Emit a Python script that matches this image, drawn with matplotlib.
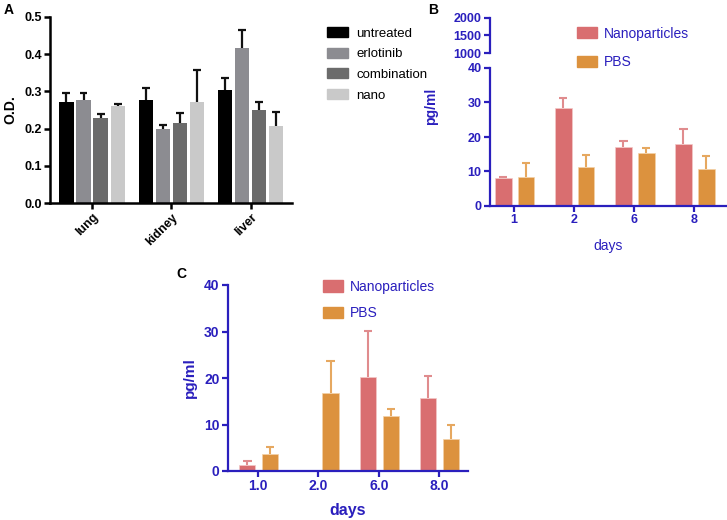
import matplotlib.pyplot as plt
import numpy as np
from matplotlib.patches import Patch

plt.rcParams['font.family'] = ['Liberation Sans Narrow', 'Liberation Sans', 'DejaVu Sans']

# ---- panel A data (O.D.) ----
tissues = ['lung', 'kidney', 'liver']
treatments = ['untreated', 'erlotinib', 'combination', 'nano']
od_untreated = [0.272, 0.278, 0.305]
od_erlotinib = [0.278, 0.200, 0.417]
od_combination = [0.228, 0.215, 0.249]
od_nano = [0.260, 0.272, 0.207]
err_untreated = [0.023, 0.032, 0.032]
err_erlotinib = [0.017, 0.010, 0.047]
err_combination = [0.010, 0.028, 0.022]
err_nano = [0.005, 0.086, 0.037]

# ---- panel B data (pg/ml) ----
days_b = ['1', '2', '6', '8']
b_nano = [8.0, 28.3, 17.2, 17.9]
b_nano_err = [0.3, 2.9, 1.5, 4.3]
b_pbs = [8.3, 11.2, 15.3, 10.8]
b_pbs_err = [4.3, 3.5, 1.5, 3.7]

# ---- panel C data (pg/ml) ----
days_c = ['1.0', '2.0', '6.0', '8.0']
c_nano = [1.3, 0.0, 20.3, 15.8]
c_nano_err = [0.8, 0.0, 9.8, 4.7]
c_pbs = [3.6, 16.8, 11.8, 6.9]
c_pbs_err = [1.6, 6.9, 1.5, 3.1]

gray_cols = ['#000000', '#8c8c91', '#6b6b6b', '#c9c9c9']
nano_col = '#d96e70'
pbs_col = '#dc923e'
nano_err_col = '#e08c8e'
pbs_err_col = '#e6a860'
blue = '#2a1fbd'

W, H = 727, 520
fig = plt.figure(figsize=(7.27, 5.2), dpi=100)


def box(l, t, r, b):
    # pixel box -> figure fraction
    return [l / W, 1 - b / H, (r - l) / W, (b - t) / H]


def draw_err(ax, x, mean, err, color, capw, lw):
    x = np.asarray(x); mean = np.asarray(mean); err = np.asarray(err)
    keep = err > 0
    top = mean + err
    ax.vlines(x[keep], mean[keep], top[keep], color=color, lw=lw, zorder=1)
    ax.hlines(top[keep], x[keep] - capw, x[keep] + capw, color=color, lw=lw, zorder=1)


# ================= panel A =================
axA = fig.add_axes(box(50, 17, 292, 203))
xa = np.arange(len(tissues))
means_a = [od_untreated, od_erlotinib, od_combination, od_nano]
errs_a = [err_untreated, err_erlotinib, err_combination, err_nano]
bw = 0.18
for i in range(4):
    xs = xa + (i - 1.5) * 0.215
    axA.bar(xs, means_a[i], bw, color=gray_cols[i], zorder=2, label=treatments[i])
    draw_err(axA, xs, means_a[i], errs_a[i], '#111111', 0.05, 1.6)
axA.set_xlim(-0.53, 2.52)
axA.set_ylim(0, 0.5)
axA.set_yticks(np.arange(0, 0.51, 0.1))
axA.set_yticklabels(['%.1f' % v for v in np.arange(0, 0.51, 0.1)], fontweight='bold', fontsize=9)
axA.set_xticks(xa)
axA.set_xticklabels(tissues, rotation=45, ha='right', rotation_mode='anchor',
                    fontweight='bold', fontsize=9)
axA.set_ylabel('O.D.', fontweight='bold', fontsize=10)
axA.yaxis.set_label_coords(-0.135, 0.5)
for s in ['top', 'right']:
    axA.spines[s].set_visible(False)
for s in ['left', 'bottom']:
    axA.spines[s].set_linewidth(1.8)
axA.tick_params(width=1.8, length=4, pad=2)

handles = [Patch(color=c) for c in gray_cols]
fig.legend(handles, treatments, loc='upper left', bbox_to_anchor=(322 / W, 1 - 22 / H),
           frameon=False, fontsize=9.5, handlelength=1.6, handleheight=0.8,
           labelspacing=0.6, handletextpad=0.6, borderaxespad=0)

fig.text(4 / W, 1 - 14 / H, 'A', fontweight='bold', fontsize=10, family='Liberation Sans')


# ================= panel B =================
def style_blue(ax, tsize):
    for s in ['top', 'right']:
        ax.spines[s].set_visible(False)
    for s in ['left', 'bottom']:
        ax.spines[s].set_color(blue)
        ax.spines[s].set_linewidth(1.6)
    ax.tick_params(colors=blue, width=1.6, length=4, labelsize=tsize, pad=2)
    for lab in ax.get_xticklabels() + ax.get_yticklabels():
        lab.set_fontweight('bold')


axB = fig.add_axes(box(490, 68, 726, 206))
xb = np.arange(len(days_b))
axB.bar(xb - 0.18, b_nano, 0.28, color=nano_col, edgecolor='#f3c8c8', lw=0.5, zorder=2)
axB.bar(xb + 0.20, b_pbs, 0.28, color=pbs_col, edgecolor='#f4d2a8', lw=0.5, zorder=2)
draw_err(axB, xb - 0.18, b_nano, b_nano_err, nano_err_col, 0.07, 1.5)
draw_err(axB, xb + 0.20, b_pbs, b_pbs_err, pbs_err_col, 0.07, 1.5)
axB.set_xlim(-0.4, 3.53)
axB.set_ylim(0, 40)
axB.set_yticks([0, 10, 20, 30, 40])
axB.set_xticks(xb)
axB.set_xticklabels(days_b)
style_blue(axB, 9)
axB.set_ylabel('pg/ml', color=blue, fontweight='bold', fontsize=10)
axB.yaxis.set_label_coords(-0.22, 0.72)
axB.set_xlabel('days', color=blue, fontsize=10, labelpad=9)

axB2 = fig.add_axes(box(490, 18, 726, 53))
axB2.set_ylim(1000, 2000)
axB2.set_yticks([1000, 1500, 2000])
axB2.set_xticks([])
style_blue(axB2, 9)
axB2.spines['bottom'].set_visible(False)
axB2.patch.set_visible(False)

legB = fig.legend([Patch(color=nano_col), Patch(color=pbs_col)], ['Nanoparticles', 'PBS'],
                  loc='upper left', bbox_to_anchor=(571 / W, 1 - 21 / H), frameon=False,
                  fontsize=10, handlelength=1.45, handleheight=0.85, labelspacing=1.05,
                  handletextpad=0.55, borderaxespad=0)
for t in legB.get_texts():
    t.set_color(blue)

fig.text(428 / W, 1 - 14 / H, 'B', fontweight='bold', fontsize=10, family='Liberation Sans')

# ================= panel C =================
axC = fig.add_axes(box(228, 285, 468, 471))
xc = np.arange(len(days_c))
axC.bar(xc - 0.18, c_nano, 0.27, color=nano_col, edgecolor='#f3c8c8', lw=0.5, zorder=2)
axC.bar(xc + 0.20, c_pbs, 0.27, color=pbs_col, edgecolor='#f4d2a8', lw=0.5, zorder=2)
draw_err(axC, xc - 0.18, c_nano, c_nano_err, nano_err_col, 0.07, 1.5)
draw_err(axC, xc + 0.20, c_pbs, c_pbs_err, pbs_err_col, 0.07, 1.5)
axC.set_xlim(-0.5, 3.48)
axC.set_ylim(0, 40)
axC.set_yticks([0, 10, 20, 30, 40])
axC.set_xticks(xc)
axC.set_xticklabels(days_c)
style_blue(axC, 10)
axC.set_ylabel('pg/ml', color=blue, fontweight='bold', fontsize=11)
axC.yaxis.set_label_coords(-0.13, 0.5)
axC.set_xlabel('days', color=blue, fontweight='bold', fontsize=11.5, labelpad=7)

legC = fig.legend([Patch(color=nano_col), Patch(color=pbs_col)], ['Nanoparticles', 'PBS'],
                  loc='upper left', bbox_to_anchor=(317 / W, 1 - 274 / H), frameon=False,
                  fontsize=10, handlelength=1.45, handleheight=0.9, labelspacing=0.9,
                  handletextpad=0.55, borderaxespad=0)
for t in legC.get_texts():
    t.set_color(blue)

fig.text(176 / W, 1 - 278 / H, 'C', fontweight='bold', fontsize=10, family='Liberation Sans')

fig.savefig('out.png', dpi=100)
